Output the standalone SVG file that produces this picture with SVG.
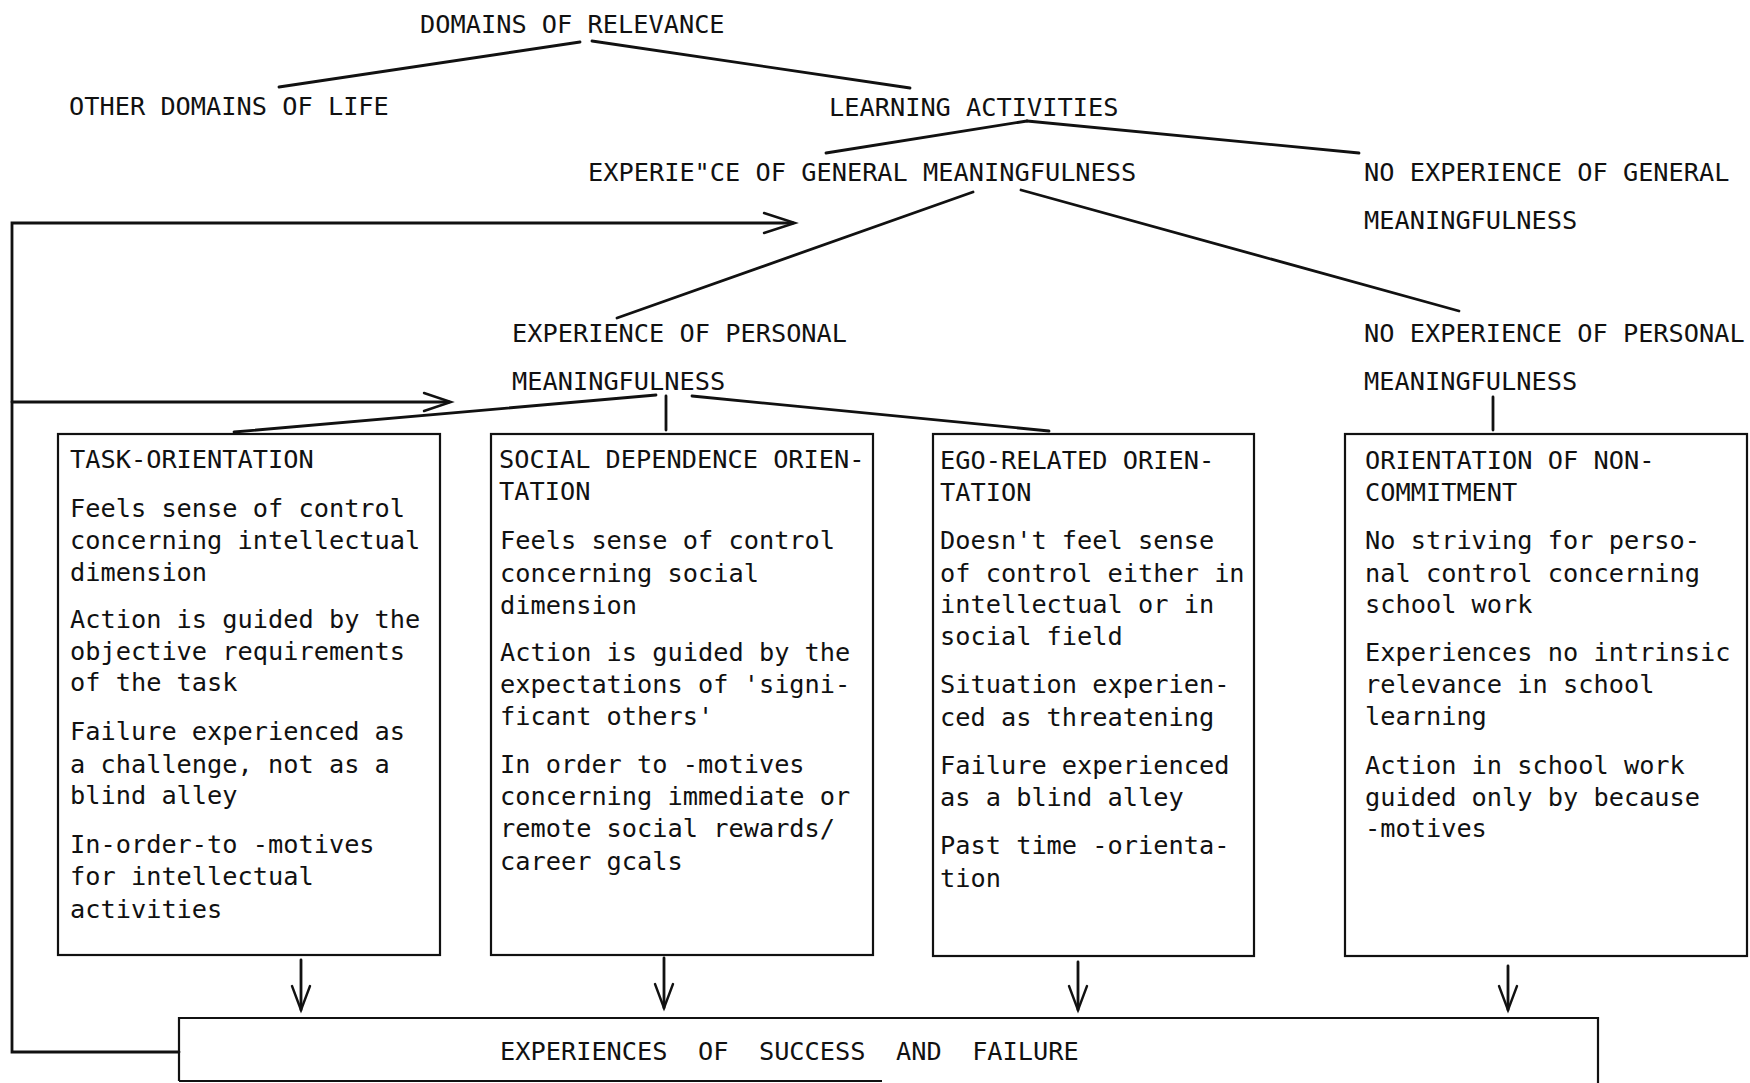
<svg xmlns="http://www.w3.org/2000/svg" width="1750" height="1083" viewBox="0 0 1750 1083">
<style>
text{font-family:"DejaVu Sans Mono","Liberation Mono",monospace;font-size:25.3px;fill:#111;}
.box{fill:none;stroke:#111;stroke-width:2.2;}
.ln{fill:none;stroke:#111;stroke-width:2.8;stroke-linecap:round;}
.ah{fill:none;stroke:#111;stroke-width:2.4;stroke-linecap:round;stroke-linejoin:miter;}
</style>
<rect width="1750" height="1083" fill="#fff"/>
<g id="connectors">
<line class="ln" x1="580" y1="42" x2="279" y2="87"/>
<line class="ln" x1="592" y1="41" x2="910" y2="88"/>
<line class="ln" x1="1027" y1="121" x2="826" y2="153"/>
<line class="ln" x1="1027" y1="121" x2="1359" y2="153"/>
<line class="ln" x1="973" y1="192" x2="617" y2="318"/>
<line class="ln" x1="1021" y1="190" x2="1459" y2="311"/>
<line class="ln" x1="656" y1="395" x2="234" y2="432"/>
<line class="ln" x1="666" y1="396" x2="666" y2="430"/>
<line class="ln" x1="692" y1="396" x2="1049" y2="431"/>
<line class="ln" x1="1493" y1="397" x2="1493" y2="430"/>
<polyline class="ln" points="179,1052 12,1052 12,223 793,223"/>
<line class="ln" x1="12" y1="402" x2="449" y2="402"/>
<polyline class="ah" points="764,213 795,223 764,233"/>
<polyline class="ah" points="424,393 451,402 424,411"/>
<line class="ln" x1="301" y1="960" x2="301" y2="1010"/>
<polyline class="ah" points="292,986 301,1010 310,986"/>
<line class="ln" x1="664" y1="958" x2="664" y2="1008"/>
<polyline class="ah" points="655,984 664,1008 673,984"/>
<line class="ln" x1="1078" y1="962" x2="1078" y2="1010"/>
<polyline class="ah" points="1069,986 1078,1010 1087,986"/>
<line class="ln" x1="1508" y1="966" x2="1508" y2="1010"/>
<polyline class="ah" points="1499,986 1508,1010 1517,986"/>
</g>
<g id="domains"><text x="420" y="33">DOMAINS OF RELEVANCE</text></g>
<g id="other"><text x="69" y="115">OTHER DOMAINS OF LIFE</text></g>
<g id="learning"><text x="829" y="116">LEARNING ACTIVITIES</text></g>
<g id="exp-general"><text x="588" y="181">EXPERIE"CE OF GENERAL MEANINGFULNESS</text></g>
<g id="no-exp-general"><text x="1364" y="181">NO EXPERIENCE OF GENERAL</text><text x="1364" y="229">MEANINGFULNESS</text></g>
<g id="exp-personal"><text x="512" y="342">EXPERIENCE OF PERSONAL</text><text x="512" y="390">MEANINGFULNESS</text></g>
<g id="no-exp-personal"><text x="1364" y="342">NO EXPERIENCE OF PERSONAL</text><text x="1364" y="390">MEANINGFULNESS</text></g>
<g id="task">
<rect class="box" x="58" y="434" width="382" height="521"/>
<text x="70" y="468">TASK-ORIENTATION</text>
<text x="70" y="517">Feels sense of control</text>
<text x="70" y="549">concerning intellectual</text>
<text x="70" y="581">dimension</text>
<text x="70" y="628">Action is guided by the</text>
<text x="70" y="660">objective requirements</text>
<text x="70" y="691">of the task</text>
<text x="70" y="740">Failure experienced as</text>
<text x="70" y="773">a challenge, not as a</text>
<text x="70" y="804">blind alley</text>
<text x="70" y="853">In-order-to -motives</text>
<text x="70" y="885">for intellectual</text>
<text x="70" y="918">activities</text>
</g>
<g id="social">
<rect class="box" x="491" y="434" width="382" height="521"/>
<text x="499" y="468">SOCIAL DEPENDENCE ORIEN-</text>
<text x="499" y="500">TATION</text>
<text x="500" y="549">Feels sense of control</text>
<text x="500" y="582">concerning social</text>
<text x="500" y="614">dimension</text>
<text x="500" y="661">Action is guided by the</text>
<text x="500" y="693">expectations of 'signi-</text>
<text x="500" y="725">ficant others'</text>
<text x="500" y="773">In order to -motives</text>
<text x="500" y="805">concerning immediate or</text>
<text x="500" y="837">remote social rewards/</text>
<text x="500" y="870">career gcals</text>
</g>
<g id="ego">
<rect class="box" x="933" y="434" width="321" height="522"/>
<text x="940" y="469">EGO-RELATED ORIEN-</text>
<text x="940" y="501">TATION</text>
<text x="940" y="549">Doesn't feel sense</text>
<text x="940" y="582">of control either in</text>
<text x="940" y="613">intellectual or in</text>
<text x="940" y="645">social field</text>
<text x="940" y="693">Situation experien-</text>
<text x="940" y="726">ced as threatening</text>
<text x="940" y="774">Failure experienced</text>
<text x="940" y="806">as a blind alley</text>
<text x="940" y="854">Past time -orienta-</text>
<text x="940" y="887">tion</text>
</g>
<g id="noncommit">
<rect class="box" x="1345" y="434" width="402" height="522"/>
<text x="1365" y="469">ORIENTATION OF NON-</text>
<text x="1365" y="501">COMMITMENT</text>
<text x="1365" y="549">No striving for perso-</text>
<text x="1365" y="582">nal control concerning</text>
<text x="1365" y="613">school work</text>
<text x="1365" y="661">Experiences no intrinsic</text>
<text x="1365" y="693">relevance in school</text>
<text x="1365" y="725">learning</text>
<text x="1365" y="774">Action in school work</text>
<text x="1365" y="806">guided only by because</text>
<text x="1365" y="837">-motives</text>
</g>
<g id="success-failure">
<path class="box" d="M179,1081 L179,1018 L1598,1018 L1598,1083 M179,1081 L882,1081"/>
<text x="500" y="1060" xml:space="preserve">EXPERIENCES  OF  SUCCESS  AND  FAILURE</text>
</g>
</svg>
